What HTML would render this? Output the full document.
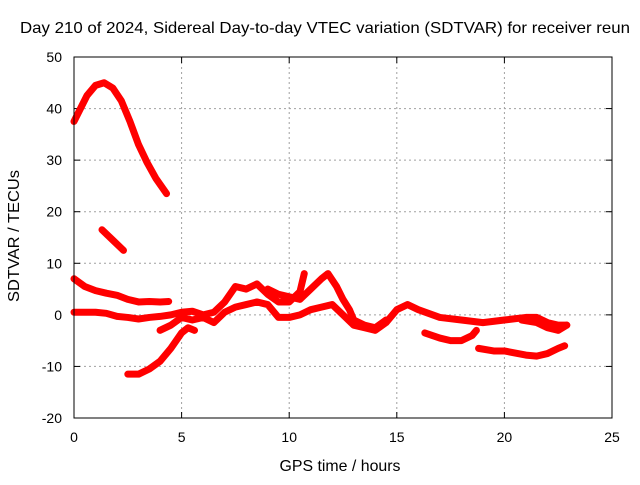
<!DOCTYPE html>
<html><head><meta charset="utf-8"><style>
body{margin:0;background:#fff}
svg text{font-family:"Liberation Sans",sans-serif;font-size:14px;fill:#000}
</style></head><body>
<svg id="c" width="640" height="480" xmlns="http://www.w3.org/2000/svg">
<rect width="640" height="480" fill="#fff"/>
<text x="20" y="33" style="font-size:16px" textLength="610" lengthAdjust="spacingAndGlyphs">Day 210 of 2024, Sidereal Day-to-day VTEC variation (SDTVAR) for receiver reun</text>
<g id="grid"></g><g id="ticks"></g><g id="series"></g>
<rect x="74" y="57" width="538" height="361" fill="none" stroke="#000" stroke-width="1"/>
<text x="340" y="471" style="font-size:16px" text-anchor="middle" textLength="121" lengthAdjust="spacingAndGlyphs">GPS time / hours</text>
<text transform="translate(19,236) rotate(-90)" style="font-size:16px" text-anchor="middle" textLength="132" lengthAdjust="spacingAndGlyphs">SDTVAR / TECUs</text>
</svg>
<script>
const xTicks=[0,5,10,15,20,25];
const yTicks=[-20,-10,0,10,20,30,40,50];
const trackUpperArc=[[0,37.5],[0.3,40],[0.6,42.5],[1,44.5],[1.4,45],[1.8,44],[2.2,41.5],[2.6,37.5],[3,33],[3.4,29.5],[3.8,26.5],[4.3,23.5]];
const trackShort=[[1.3,16.5],[1.8,14.5],[2.3,12.5]];
const trackHigh=[[0,7],[0.5,5.5],[1,4.7],[1.5,4.2],[2,3.8],[2.5,3],[3,2.5],[3.5,2.6],[4,2.5],[4.4,2.6]];
const trackMidA=[[0,0.5],[0.5,0.5],[1,0.5],[1.5,0.3],[2,-0.3],[2.5,-0.5],[3,-0.8],[3.5,-0.5],[4,-0.3],[4.5,0],[5,0.5],[5.5,0.7],[6,0],[6.5,0.5],[7,2.5],[7.5,5.5],[8,5],[8.5,6],[9,4],[9.5,2.5],[10,2.5],[10.5,4.5],[10.7,8]];
const trackMidB=[[4,-3],[4.5,-2],[5,-0.5],[5.5,-1],[6,-0.5],[6.5,-1.5],[7,0.5],[7.5,1.5],[8,2],[8.5,2.5],[9,2],[9.5,-0.5],[10,-0.5],[10.5,0],[11,1],[11.5,1.5],[12,2],[12.5,0],[13,-2],[13.5,-2.5],[14,-3],[14.5,-1.5],[15,1],[15.5,2],[16,1],[17,-0.5],[18,-1],[19,-1.5],[20,-1],[21,-0.5],[21.5,-0.5],[22,-1.5],[22.5,-2],[22.9,-2]];
const trackMidC=[[9,5],[9.5,4],[10,3.5],[10.5,3],[11,5],[11.5,7],[11.8,8],[12.2,5.5],[12.5,3],[12.8,1],[13,-1],[13.5,-2],[14,-2.5],[14.5,-1]];
const trackBulge=[[20.8,-1],[21.5,-1.5],[22,-2.5],[22.5,-3],[22.9,-2]];
const trackLow=[[2.5,-11.5],[3,-11.5],[3.5,-10.5],[4,-9],[4.5,-6.5],[5,-3.5],[5.3,-2.5],[5.6,-3]];
const trackDip=[[16.3,-3.5],[17,-4.5],[17.5,-5],[18,-5],[18.5,-4],[18.7,-3]];
const trackBottom=[[18.8,-6.5],[19.5,-7],[20,-7],[21,-7.8],[21.5,-8],[22,-7.5],[22.5,-6.5],[22.8,-6]];
const tracks=[trackUpperArc,trackShort,trackHigh,trackMidA,trackMidB,trackMidC,trackBulge,trackLow,trackDip,trackBottom];
const X0=74,X1=612,Y0=418,Y1=57;
const sx=v=>X0+(v-0)/25*(X1-X0);
const sy=v=>Y0-(v+20)/70*(Y0-Y1);
const NS="http://www.w3.org/2000/svg";
function mk(t,p,a){const e=document.createElementNS(NS,t);for(const k in a)e.setAttribute(k,a[k]);p.appendChild(e);return e;}
const grid=document.getElementById('grid'),ticks=document.getElementById('ticks'),ser=document.getElementById('series');
xTicks.forEach(t=>{const x=sx(t);
 if(t>0&&t<25){const g=mk('line',grid,{x1:x,x2:x,y1:Y1,y2:Y0,stroke:'#a0a0a0','stroke-dasharray':'2,3'});
 
 }
 mk('line',ticks,{x1:x,x2:x,y1:Y0,y2:Y0-6,stroke:'#000'});mk('line',ticks,{x1:x,x2:x,y1:Y1,y2:Y1+6,stroke:'#000'});
 const l=mk('text',ticks,{x:x,y:Y0+24,'text-anchor':'middle'});l.textContent=t;
 
 });
yTicks.forEach(t=>{const y=sy(t);
 if(t>-20&&t<50){const g=mk('line',grid,{x1:X0,x2:X1,y1:y,y2:y,stroke:'#a0a0a0','stroke-dasharray':'2,3'});
 
 }
 mk('line',ticks,{x1:X0,x2:X0+6,y1:y,y2:y,stroke:'#000'});mk('line',ticks,{x1:X1,x2:X1-6,y1:y,y2:y,stroke:'#000'});
 const l=mk('text',ticks,{x:X0-12,y:y+5,'text-anchor':'end'});l.textContent=t;
 
 });
tracks.forEach(tr=>{
 const p=mk('polyline',ser,{points:tr.map(d=>sx(d[0])+','+sy(d[1])).join(' '),fill:'none',stroke:'#ff0000','stroke-width':7,'stroke-linejoin':'round','stroke-linecap':'round'});
 
 
});
</script>
</body></html>
